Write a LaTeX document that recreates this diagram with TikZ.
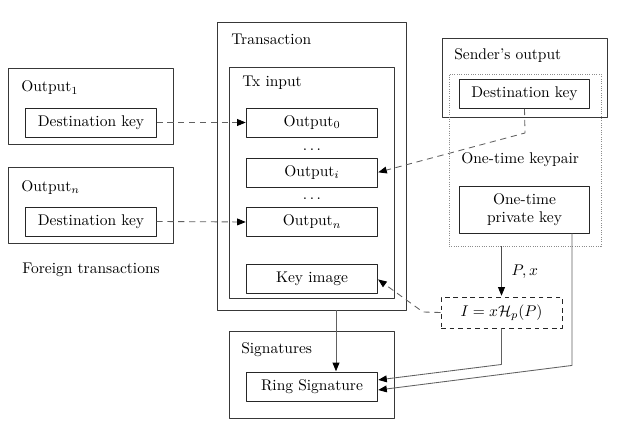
\documentclass[tikz,border=0pt]{standalone}
\usetikzlibrary{arrows.meta}

\begin{document}
\begin{tikzpicture}[x=0.645pt,y=-0.645pt,font=\normalsize,line join=round,
  frame/.style={draw=black!78,line width=0.6pt,inner sep=0pt},
  keybox/.style={draw=black!85,line width=0.6pt,inner sep=0pt,minimum width=83.9pt,minimum height=18.7pt},
  tag/.style={anchor=base west,inner sep=0pt},
  link/.style={-{Triangle[length=5.5pt,width=4.4pt,color=black]},black!62,line width=0.55pt,shorten >=0.5pt},
  dlink/.style={link,dash pattern=on 4pt off 3pt}]
\useasboundingbox (0,0) rectangle (619,424);
% foreign transactions
\node[frame,minimum width=106.4pt,minimum height=49pt] (fo1) at (90.5,106.5) {};
\node[tag] (fo1t) at (21,92) {Output$_1$};
\node[keybox] (dk1) at (91,122.5) {Destination key};
\node[frame,minimum width=106.4pt,minimum height=49pt] (fon) at (90.5,205.5) {};
\node[tag] (font) at (21,191) {Output$_n$};
\node[keybox] (dk2) at (91,221.5) {Destination key};
\node[tag] (foreign) at (22,273) {Foreign transactions};
% transaction
\node[frame,minimum width=121.9pt,minimum height=185.8pt] (tx) at (311.5,166) {};
\node[tag] (txt) at (231,45) {Transaction};
\node[frame,minimum width=106.4pt,minimum height=149pt] (txin) at (311.5,182.5) {};
\node[tag] (txint) at (242,87) {Tx input};
\node[keybox] (out0) at (312,122.5) {Output$_0$};
\node (dots1) at (312,150) {$\dots$};
\node[keybox] (outi) at (312,172.5) {Output$_i$};
\node (dots2) at (312,199) {$\dots$};
\node[keybox] (outn) at (312,222) {Output$_n$};
\node[keybox] (kimg) at (312,279) {Key image};
% signatures
\node[frame,minimum width=106.4pt,minimum height=56.1pt] (sigs) at (311.5,374.5) {};
\node[tag] (sigst) at (241,353) {Signatures};
\node[keybox] (ring) at (312,387) {Ring Signature};
% sender side
\node[frame,minimum width=106.4pt,minimum height=51pt] (sender) at (524.5,77.5) {};
\node[tag] (sendert) at (454,60) {Sender's output};
\node[draw=black!45,densely dotted,line width=0.5pt,inner sep=0pt,minimum width=98pt,minimum height=111pt] (pair) at (525,160) {};
\node[keybox] (dks) at (524.5,94) {Destination key};
\node[tag] (pairt) at (461,163) {One-time keypair};
\node[keybox,minimum height=30.3pt,align=center] (priv) at (524.5,209.5) {One-time\\private key};
\node[draw=black!85,line width=0.6pt,dash pattern=on 3pt off 2.5pt,inner sep=0pt,minimum width=78pt,minimum height=20pt] (img) at (501.5,312.5) {$I = x\mathcal{H}_p(P)$};
% connectors
\coordinate (bend1) at (525,133);
\coordinate (bend2) at (423,312);
\coordinate (txfoot) at (336,310);
\draw[dlink] (dk1.east) -- (out0.west);
\draw[dlink] (dk2.east) -- (outn.west);
\draw[dlink] (dks.south) -- (bend1) -- (outi.east);
\draw[dlink] (img.west) -- (bend2) -- (kimg.east);
\draw[link,black!70] (img.north |- pair.south) -- node[right=3pt,black] {$P,x$} (img.north);
\draw[link] (txfoot) -- (txfoot |- ring.north);
\draw[link] (img.south) -- ++(0,36) -- ([yshift=4.5pt]ring.east);
\draw[link] ([xshift=30.6pt]priv.south) -- ++(0,132) -- ([yshift=-2pt]ring.east);
\end{tikzpicture}
\end{document}
